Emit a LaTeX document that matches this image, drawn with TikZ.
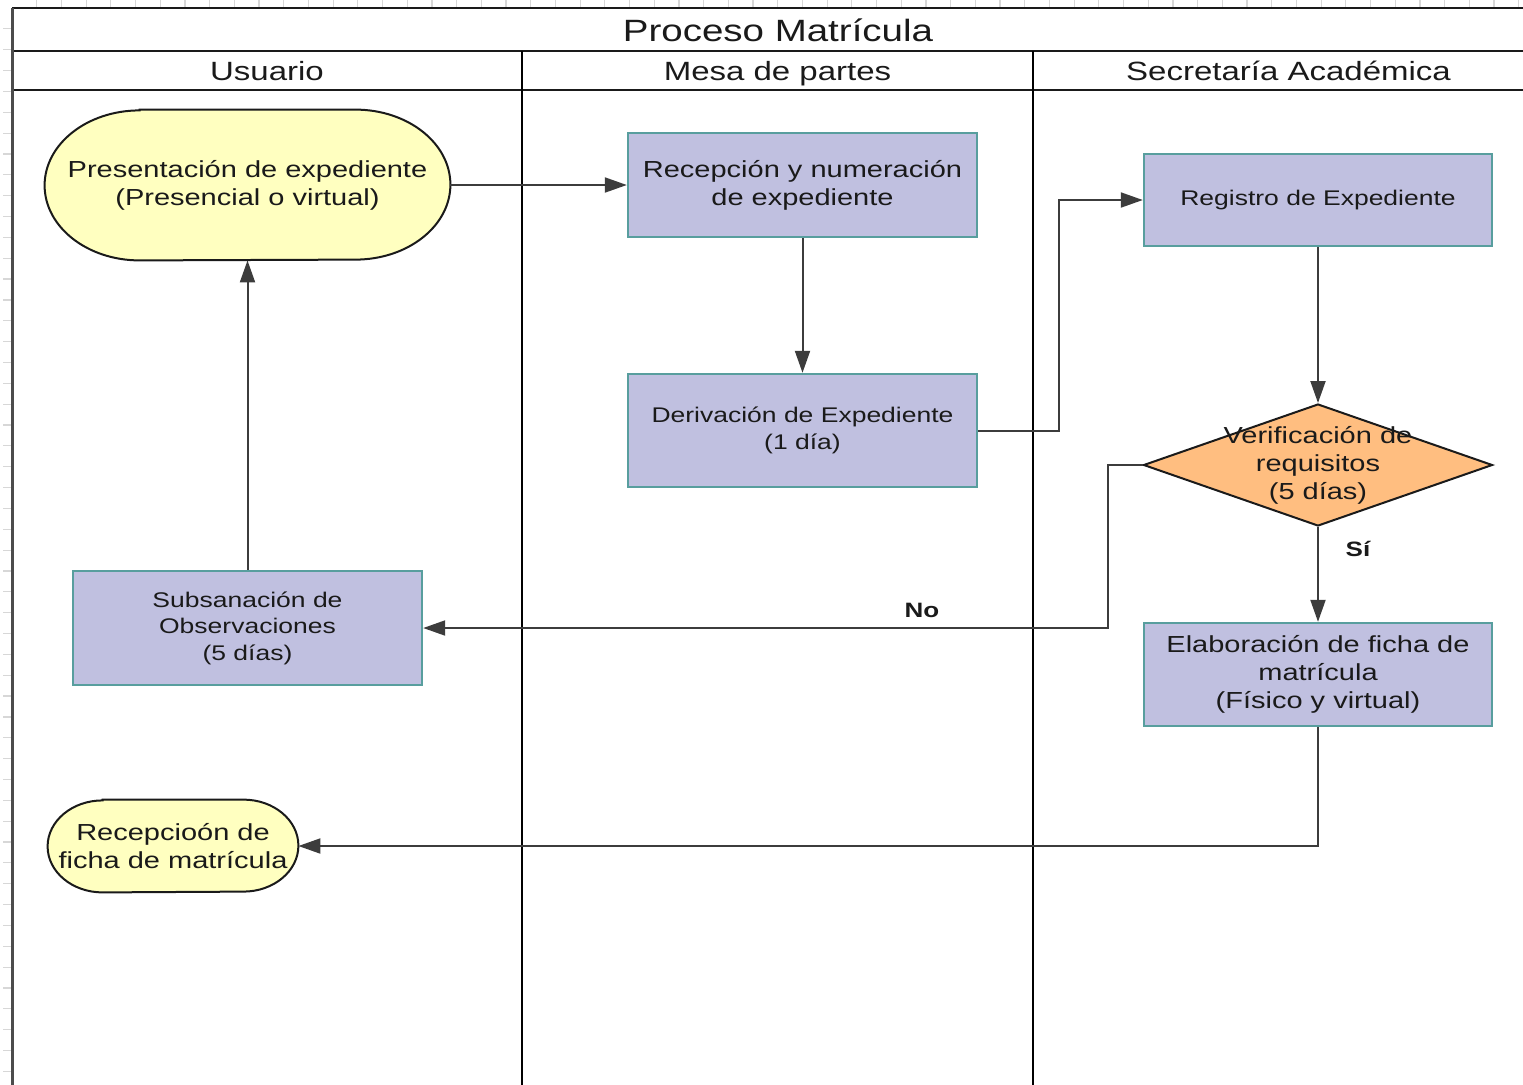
\documentclass[tikz,border=0pt]{standalone}
\usepackage{fontspec}
\setmainfont{Liberation Sans}
\newfontfamily\widefont[FakeStretch=1.25]{Liberation Sans}
\usetikzlibrary{arrows.meta,shapes.geometric,backgrounds}

\definecolor{boxfill}{RGB}{192,192,224}
\definecolor{boxline}{RGB}{88,158,158}
\definecolor{termfill}{RGB}{255,255,192}
\definecolor{decfill}{RGB}{255,190,128}
\definecolor{ink}{RGB}{26,26,26}
\definecolor{wire}{RGB}{60,60,60}
\definecolor{tickgray}{RGB}{215,215,215}

\newcommand\bigtxt{\widefont\fontsize{11.6}{14}\selectfont}
\newcommand\smalltxt{\widefont\fontsize{10.6}{13.25}\selectfont}
\newcommand\headtxt{\widefont\fontsize{13.2}{15}\selectfont}
\newcommand\titletxt{\widefont\fontsize{15.4}{17}\selectfont}
\newcommand\tagtxt{\widefont\bfseries\fontsize{10.4}{12}\selectfont}

\tikzset{
  task/.style={rectangle, draw=boxline, line width=1.2pt, fill=boxfill,
    inner sep=0pt, align=center, text=ink},
  decision/.style={diamond, draw=ink, line width=1pt, fill=decfill,
    inner sep=0pt, minimum width=174.5pt, minimum height=61pt},
  termtext/.style={inner sep=0pt, align=center, text=ink, font=\bigtxt},
  termline/.style={draw=ink, line width=1pt, fill=termfill},
  flow/.style={draw=wire, line width=1pt, -{Triangle[length=11pt,width=7.5pt]}},
  frameline/.style={draw=ink, line width=1pt},
  laneline/.style={draw=black, line width=1pt},
  header/.style={inner sep=0pt, text=ink, anchor=base},
  tag/.style={inner sep=0pt, text=ink, font=\tagtxt},
}

\begin{document}
\begin{tikzpicture}[x=0.5pt,y=-0.5pt]
\useasboundingbox (0,0) rectangle (1523,1084);
\clip (0,0) rectangle (1523,1084);

% ruler ticks along the top and left margins
\foreach \k in {1,...,61} \draw[tickgray, line width=0.6pt] (12+24.7*\k,0) -- (12+24.7*\k,8);
\foreach \k in {1,...,52} \draw[tickgray, line width=0.6pt] (3,8+20.85*\k) -- (12,8+20.85*\k);

% pool frame and lanes
\draw[frameline] (12,8) -- (1544,8);
\draw[frameline] (12,51) -- (1544,51);
\draw[frameline] (12,90) -- (1544,90);
\draw[draw=black!70, line width=1.5pt] (12,7.5) -- (12,1090);
\draw[laneline] (522,51) -- (522,1090);
\draw[laneline] (1033,51) -- (1033,1090);

\node[header, font=\titletxt] (title) at (778,41) {Proceso Matrícula};
\node[header, font=\headtxt] (h1) at (267,80) {Usuario};
\node[header, font=\headtxt] (h2) at (777.5,80) {Mesa de partes};
\node[header, font=\headtxt] (h3) at (1288.5,80) {Secretaría Académica};

% terminals
\node[termtext, minimum width=202.5pt, minimum height=75pt] (pres) at (247.5,185)
  {Presentación de expediente\\(Presencial o virtual)};
\node[termtext, minimum width=125pt, minimum height=46pt] (recep) at (173,846)
  {Recepcioón de\\ficha de matrícula};
\begin{scope}[on background layer]
  \draw[termline] ([xshift=47.5pt]pres.north west) -- ([xshift=-47.5pt]pres.north east)
    arc[start angle=90, end angle=-90, x radius=47.5pt, y radius=37.5pt]
    -- ([xshift=47.5pt]pres.south west)
    arc[start angle=270, end angle=90, x radius=47.5pt, y radius=37.5pt] -- cycle;
  \draw[termline] ([xshift=27.5pt]recep.north west) -- ([xshift=-27.5pt]recep.north east)
    arc[start angle=90, end angle=-90, x radius=27.5pt, y radius=23pt]
    -- ([xshift=27.5pt]recep.south west)
    arc[start angle=270, end angle=90, x radius=27.5pt, y radius=23pt] -- cycle;
\end{scope}

% activities
\node[task, font=\bigtxt, minimum width=174.5pt, minimum height=52pt] (rec) at (802.5,185)
  {Recepción y numeración\\de expediente};
\node[task, font=\smalltxt, minimum width=174.5pt, minimum height=56.5pt] (der) at (802.5,430.5)
  {Derivación de Expediente\\(1 día)};
\node[task, font=\smalltxt, minimum width=174pt, minimum height=46pt] (reg) at (1318,200)
  {Registro de Expediente};
\node[decision] (dec) at (1318,465) {};
\node[inner sep=0pt, align=center, text=ink, font=\bigtxt] (dectext) at (1318,465)
  {Verificación de\\requisitos\\(5 días)};
\node[task, font=\bigtxt, minimum width=174pt, minimum height=51.5pt] (elab) at (1318,674.5)
  {Elaboración de ficha de\\matrícula\\(Físico y virtual)};
\node[task, font=\smalltxt, minimum width=174.5pt, minimum height=57pt] (subs) at (247.5,628)
  {Subsanación de\\Observaciones\\(5 días)};

% connectors
\draw[flow] (pres.east) -- (rec.west);
\draw[flow] (rec.south) -- (der.north);
\draw[flow] (der.east) -- ([xshift=40.5pt]der.east) |- (reg.west);
\draw[flow] (reg.south) -- (dec.north);
\draw[flow] (dec.south) -- (elab.north);
\draw[flow] (dec.west) -- ([xshift=-17.5pt]dec.west) |- (subs.east);
\draw[flow] (subs.north) -- (pres.south);
\draw[flow] (elab.south) |- (recep.east);

\node[tag] (si) at (1358,549) {Sí};
\node[tag] (no) at (922,610) {No};
\end{tikzpicture}
\end{document}
